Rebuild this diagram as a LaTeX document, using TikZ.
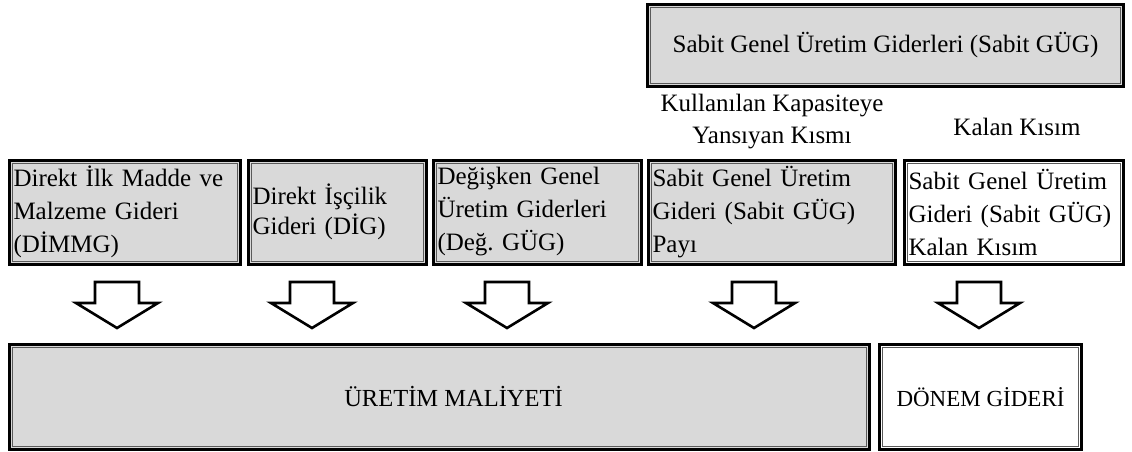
\documentclass[tikz,border=0pt]{standalone}
\usepackage{fontspec}
\setmainfont{Liberation Serif}
\frenchspacing
\definecolor{boxgray}{HTML}{D9D9D9}
\definecolor{innerline}{HTML}{5A5A5A}
\tikzset{
  box/.style={draw=black, line width=3pt, fill=boxgray, inner xsep=4pt, inner ysep=0pt,
    font=\fontsize{25}{33}\selectfont, align=left,
    path picture={\draw[innerline, line width=0.9pt]
      ([shift={(3pt,-3pt)}]path picture bounding box.north west) rectangle
      ([shift={(-3pt,3pt)}]path picture bounding box.south east);}},
  whitebox/.style={box, fill=white},
  lbl/.style={font=\fontsize{25}{32}\selectfont, align=center, inner sep=0pt},
  blockarrow/.pic={\draw[line width=2.6pt, fill=white, line join=miter]
    (-22,0) -- (22,0) -- (22,21) -- (41,21) -- (0,46) -- (-41,21) -- (-22,21) -- cycle;}
}
\begin{document}
\begin{tikzpicture}[x=1pt, y=-1pt]
\useasboundingbox (0,0) rectangle (1132,452);
% top box
\node[box, align=center, minimum width=476pt, minimum height=82pt, font=\fontsize{25}{30}\selectfont]
  (top) at (885.5,45.5) {Sabit Genel Üretim Giderleri (Sabit GÜG)};
\node[lbl] (lblA) at (772,122) {Kullanılan Kapasiteye\\Yansıyan Kısmı};
\node[lbl] (lblB) at (1017,127) {Kalan Kısım};
% middle row
\node[box, minimum width=231pt, minimum height=104pt, text width=223pt] (b1) at (125,212)
  {Direkt İlk Madde ve\\Malzeme Gideri\\(DİMMG)};
\node[box, minimum width=178pt, minimum height=104pt, text width=170pt,
  font=\fontsize{25}{30}\selectfont] (b2) at (337.5,212)
  {Direkt İşçilik\\Gideri (DİG)};
\node[box, minimum width=208pt, minimum height=104pt, text width=200pt] (b3) at (537.5,212)
  {Değişken Genel\\Üretim Giderleri\\(Değ. GÜG)};
\node[box, minimum width=247pt, minimum height=104pt, text width=239pt] (b4) at (772,212)
  {Sabit Genel Üretim\\Gideri (Sabit GÜG)\\Payı};
\node[whitebox, minimum width=219pt, minimum height=104pt, text width=211pt] (b5) at (1014,212)
  {Sabit Genel Üretim\\Gideri (Sabit GÜG)\\Kalan Kısım};
% block arrows
\coordinate (a1) at (117,282);
\coordinate (a2) at (312,282);
\coordinate (a3) at (507,282);
\coordinate (a4) at (754,282);
\coordinate (a5) at (979,282);
\foreach \c in {a1,a2,a3,a4,a5} { \pic at (\c) {blockarrow}; }
% bottom row
\node[box, align=center, minimum width=860pt, minimum height=105pt, font=\fontsize{24.5}{28}\selectfont]
  (cost) at (439.5,397) {\hspace*{28pt}ÜRETİM MALİYETİ};
\node[whitebox, align=center, minimum width=202pt, minimum height=105pt, font=\fontsize{23}{27}\selectfont]
  (period) at (980.5,397) {DÖNEM GİDERİ};
\end{tikzpicture}
\end{document}
